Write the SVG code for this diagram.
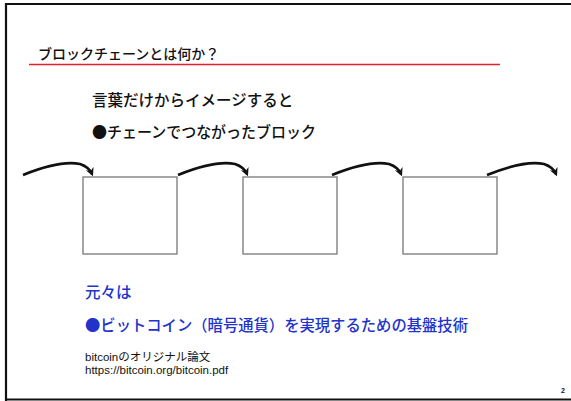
<svg xmlns="http://www.w3.org/2000/svg" width="571" height="401" viewBox="0 0 571 401">
<style>
.jp{font-family:"Noto Sans CJK JP","Liberation Sans",sans-serif;font-weight:500;}
.en{font-family:"Liberation Sans","Noto Sans CJK JP",sans-serif;}
.t{font-size:15.5px;fill:#111;}
.b{font-size:15.5px;fill:#2233cc;}
.s{font-size:11.5px;fill:#111;}
.box{fill:#fff;stroke:#777;stroke-width:1.3;}
.arr{fill:none;stroke:#111;stroke-width:2.6;marker-end:url(#ah);}
</style>
<defs>
<marker id="ah" viewBox="0 0 10 10" refX="7" refY="5" markerWidth="3.2" markerHeight="3.6" orient="auto" markerUnits="strokeWidth">
<path d="M0,0 L10,5 L0,10 L3,5 Z" fill="#111"/>
</marker>
</defs>
<rect x="0" y="0" width="571" height="401" fill="#fff"/>
<path d="M6,401 V4 H571" fill="none" stroke="#111" stroke-width="2.2"/>
<line x1="5" y1="399.5" x2="571" y2="399.5" stroke="#111" stroke-width="2"/>
<g id="title">
<text class="jp" x="38" y="59" font-size="14" fill="#111">ブロックチェーンとは何か？</text>
<line x1="29" y1="64.5" x2="500" y2="64.5" stroke="#e8202a" stroke-width="1.6"/>
</g>
<g id="text1">
<text class="jp t" x="92" y="106">言葉だけからイメージすると</text>
<text class="jp t" x="92" y="138" textLength="224" lengthAdjust="spacingAndGlyphs">●チェーンでつながったブロック</text>
</g>
<g id="block1"><rect class="box" x="83" y="177" width="94" height="77"/></g>
<g id="block2"><rect class="box" x="243" y="177" width="94" height="77"/></g>
<g id="block3"><rect class="box" x="403" y="177" width="94" height="77"/></g>
<g id="connectors">
<path class="arr" d="M23,175 Q60,160 80,164 Q89,167 92,174"/>
<path class="arr" d="M178,175 Q215,160 235,164 Q244,167 247,174"/>
<path class="arr" d="M332,175 Q369,160 389,164 Q398,167 401,174"/>
<path class="arr" d="M487,175 Q524,160 544,164 Q553,167 556,174"/>
</g>
<g id="text2">
<text class="jp b" x="85" y="298">元々は</text>
<text class="jp b" x="85" y="331" textLength="383" lengthAdjust="spacingAndGlyphs">●ビットコイン（暗号通貨）を実現するための基盤技術</text>
</g>
<g id="ref">
<text class="en s" x="85" y="361">bitcoinのオリジナル論文</text>
<text class="en s" x="85" y="374">https://bitcoin.org/bitcoin.pdf</text>
</g>
<text class="en" x="561" y="393" font-size="7" font-weight="bold" fill="#111">2</text>
</svg>
